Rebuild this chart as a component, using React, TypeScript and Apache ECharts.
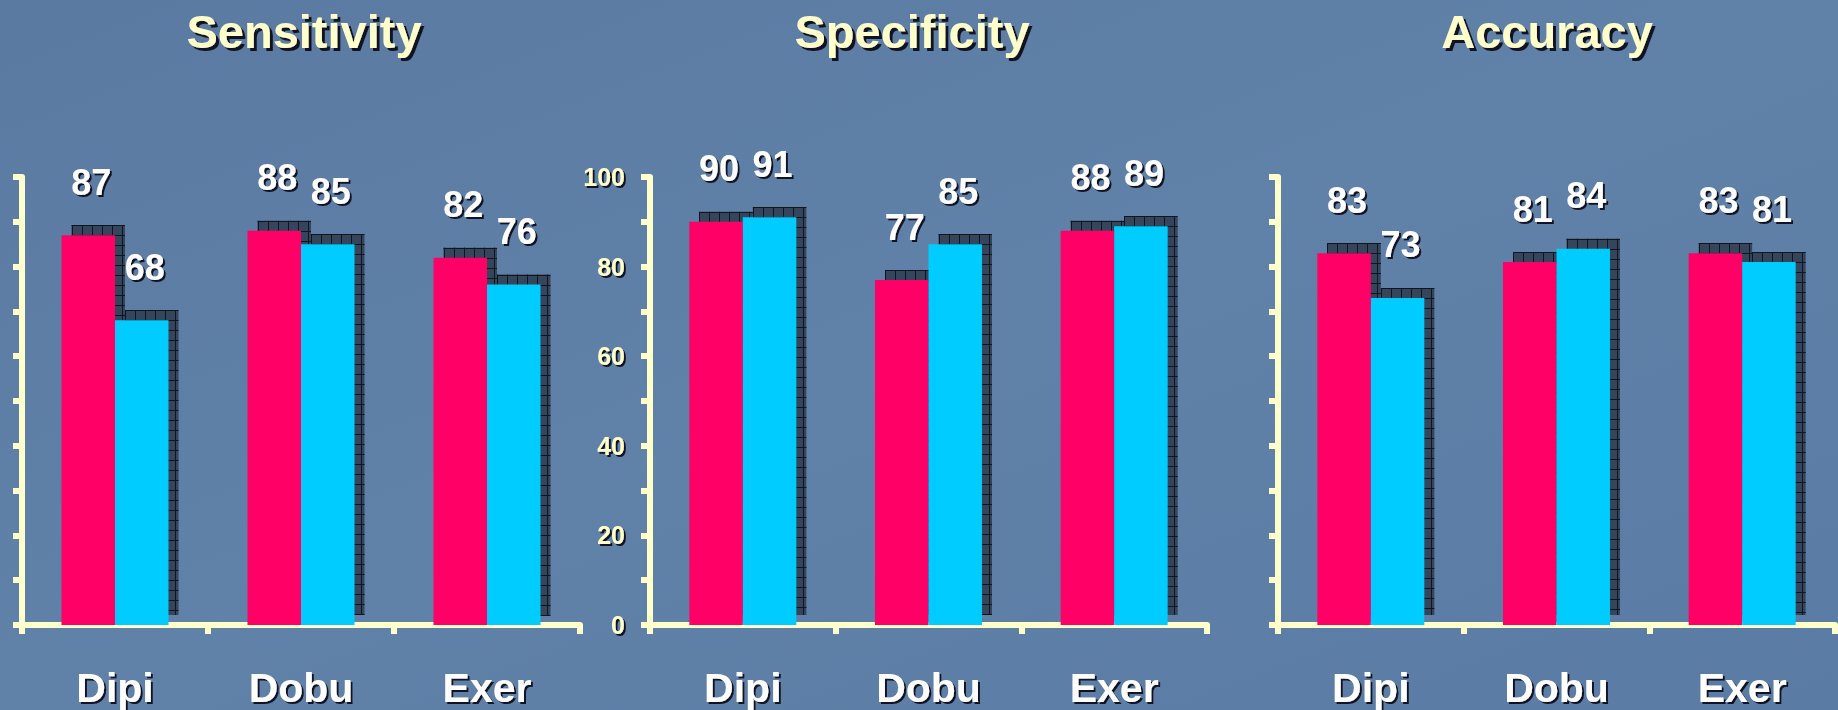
import React, { useEffect, useRef } from "react";
import * as echarts from "echarts";

// Group labels along each x axis
const categories = ["Dipi", "Dobu", "Exer"];

// Panel titles
const panelTitles = ["Sensitivity", "Specificity", "Accuracy"];

// Values per panel: first (pink) and second (cyan) bar of each group
const sensitivityA = [87, 88, 82];
const sensitivityB = [68, 85, 76];
const specificityA = [90, 77, 88];
const specificityB = [91, 85, 89];
const accuracyA = [83, 81, 83];
const accuracyB = [73, 84, 81];

// Value axis range and tick steps
const yMin = 0;
const yMax = 100;
const yTickStep = 10;
const yLabelStep = 20;

const panelValues = [
  [sensitivityA, sensitivityB],
  [specificityA, specificityB],
  [accuracyA, accuracyB],
];

// Layout and styling
const FONT = '"Liberation Sans", Arial, sans-serif';
const CREAM = "#ffffcc";
const PINK = "#ff0066";
const CYAN = "#00ccff";
const SHADOW_FILL = "#35455b";
const SHADOW_GRID = "#0f1620";
const TEXT_SHADOW = "rgba(10, 16, 28, 0.95)";
const BAR_W = 53.5;
const SHADOW_DX = 10;
const SHADOW_DY = 10;
const CELL = 10;

const gridBoxes = [
  { left: 22, width: 558 },
  { left: 650, width: 557 },
  { left: 1278, width: 557 },
];
const GRID_TOP = 177;
const GRID_HEIGHT = 448;
const titleCenters = [304, 912, 1547];

const textShadow = (d: number) => ({
  textShadowColor: TEXT_SHADOW,
  textShadowOffsetX: d,
  textShadowOffsetY: d,
  textShadowBlur: 1,
});

// Hatched drop shadow behind each pair of bars, offset up and to the right
function renderShadow(_params: any, api: any) {
  const i = api.value(0);
  const base = api.coord([i, 0]);
  const cx = base[0];
  const y0 = base[1];
  const children: any[] = [];
  [api.value(1), api.value(2)].forEach((v: number, k: number) => {
    const top = api.coord([i, v])[1];
    const x0 = cx - BAR_W + k * BAR_W + SHADOW_DX;
    const x1 = x0 + BAR_W;
    const yTop = top - SHADOW_DY;
    const yBot = y0 - SHADOW_DY;
    children.push({
      type: "rect",
      shape: { x: x0, y: yTop, width: BAR_W, height: yBot - yTop },
      style: { fill: SHADOW_FILL },
    });
    for (let y = yTop; y <= yBot + 0.1; y += CELL) {
      const yy = Math.round(y) + 0.5;
      children.push({
        type: "line",
        shape: { x1: x0, y1: yy, x2: x1, y2: yy },
        style: { stroke: SHADOW_GRID, lineWidth: 1 },
      });
    }
    for (let x = x0; x <= x1 + 0.1; x += CELL) {
      const xx = Math.round(x) + 0.5;
      children.push({
        type: "line",
        shape: { x1: xx, y1: yTop, x2: xx, y2: yBot },
        style: { stroke: SHADOW_GRID, lineWidth: 1 },
      });
    }
  });
  return { type: "group", children };
}

function buildOption() {
  const grid = gridBoxes.map((g) => ({
    left: g.left,
    width: g.width,
    top: GRID_TOP,
    height: GRID_HEIGHT,
    containLabel: false,
  }));

  const creamLine = { color: CREAM, width: 6 };

  const xAxis = gridBoxes.map((_, p) => ({
    type: "category",
    gridIndex: p,
    data: categories,
    boundaryGap: true,
    axisLine: { show: true, lineStyle: creamLine },
    axisTick: { show: true, length: 9, lineStyle: creamLine },
    axisLabel: {
      color: "#ffffff",
      fontSize: 41,
      fontWeight: "bold",
      fontFamily: FONT,
      margin: 42,
      ...textShadow(2),
    },
    splitLine: { show: false },
  }));

  const yAxis = gridBoxes.map((_, p) => ({
    type: "value",
    gridIndex: p,
    min: yMin,
    max: yMax,
    interval: yTickStep,
    axisLine: { show: true, lineStyle: creamLine },
    axisTick: { show: true, length: 9, lineStyle: creamLine },
    axisLabel: {
      show: p === 1,
      color: CREAM,
      fontSize: 25,
      fontWeight: "bold",
      fontFamily: FONT,
      margin: 25,
      formatter: (v: number) => (v % yLabelStep === 0 ? String(v) : ""),
      ...textShadow(2),
    },
    splitLine: { show: false },
  }));

  const valueLabel = {
    show: true,
    position: "top",
    distance: 35,
    offset: [3, 0],
    color: "#ffffff",
    fontSize: 36,
    fontWeight: "bold",
    fontFamily: FONT,
    ...textShadow(2),
  };

  const series: any[] = [];
  panelValues.forEach(([a, b], p) => {
    series.push({
      type: "custom",
      name: `shadow-${p}`,
      xAxisIndex: p,
      yAxisIndex: p,
      z: 1,
      silent: true,
      renderItem: renderShadow,
      encode: { x: 0, y: [1, 2] },
      data: categories.map((_, i) => [i, a[i], b[i]]),
    });
    series.push({
      type: "bar",
      name: `${panelTitles[p]} A`,
      xAxisIndex: p,
      yAxisIndex: p,
      z: 2,
      barWidth: BAR_W,
      barGap: "0%",
      itemStyle: { color: PINK },
      label: valueLabel,
      data: a,
    });
    series.push({
      type: "bar",
      name: `${panelTitles[p]} B`,
      xAxisIndex: p,
      yAxisIndex: p,
      z: 2,
      barWidth: BAR_W,
      barGap: "0%",
      itemStyle: { color: CYAN },
      label: valueLabel,
      data: b,
    });
  });

  const graphic = panelTitles.map((t, p) => ({
    type: "text",
    x: titleCenters[p],
    y: 31,
    z: 10,
    style: {
      text: t,
      fill: CREAM,
      font: `bold 47px ${FONT}`,
      align: "center",
      verticalAlign: "middle",
      ...textShadow(3),
    },
  }));

  return {
    animation: false,
    backgroundColor: {
      type: "linear",
      x: 0,
      y: 0,
      x2: 1,
      y2: 1,
      colorStops: [
        { offset: 0, color: "#5a7aa2" },
        { offset: 0.5, color: "#6081a8" },
        { offset: 1, color: "#5a7ba3" },
      ],
    },
    grid,
    xAxis,
    yAxis,
    series,
    graphic,
  };
}

export default function App() {
  const ref = useRef<HTMLDivElement>(null);
  useEffect(() => {
    if (!ref.current) return;
    const chart = echarts.init(ref.current, undefined, { renderer: "svg" });
    chart.setOption(buildOption() as any);
    return () => chart.dispose();
  }, []);
  return (
    <div
      ref={ref}
      style={{ position: "absolute", left: 0, top: 0, width: 1838, height: 710 }}
    />
  );
}
